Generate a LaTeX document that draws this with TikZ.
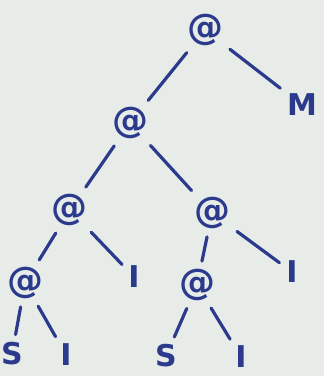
\documentclass[tikz,border=0pt]{standalone}
\usepackage{fontspec}
\setmainfont{DejaVu Sans}
\definecolor{ink}{HTML}{2B3A8C}
\definecolor{paper}{HTML}{E8ECE8}
\begin{document}
\begin{tikzpicture}[x=1pt,y=-1pt,
  lbl/.style={text=ink,font=\bfseries\fontsize{30}{34}\selectfont,inner sep=2pt},
  app/.style={text=ink,font=\bfseries\fontsize{36}{40}\selectfont,inner sep=2pt},
  edge/.style={draw=ink,line width=3.2pt,line cap=round,shorten <=6pt,shorten >=6pt}]
\fill[paper] (0,0) rectangle (324,376);
\useasboundingbox (0,0) rectangle (324,376);
\node[app] (r) at (205,30) {@};
\node[lbl] (m) at (302,105) {M};
\node[app] (a2) at (130,123) {@};
\node[app] (a3) at (70,210) {@};
\node[app] (a4) at (212,213) {@};
\node[lbl] (i3) at (134,277) {I};
\node[lbl] (i4) at (292,272) {I};
\node[app] (a5) at (25,283) {@};
\node[app] (a6) at (197,285) {@};
\node[lbl] (s5) at (12,354) {S};
\node[lbl] (i5) at (66,355) {I};
\node[lbl] (s6) at (166,356) {S};
\node[lbl] (i6) at (241,357) {I};
\draw[edge] (r) -- (a2);
\draw[edge] (r) -- (m);
\draw[edge] (a2) -- (a3);
\draw[edge] (a2) -- (a4);
\draw[edge] (a3) -- (a5);
\draw[edge] (a3) -- (i3);
\draw[edge] (a4) -- (a6);
\draw[edge] (a4) -- (i4);
\draw[edge] (a5) -- (s5);
\draw[edge] (a5) -- (i5);
\draw[edge] (a6) -- (s6);
\draw[edge] (a6) -- (i6);
\end{tikzpicture}
\end{document}
